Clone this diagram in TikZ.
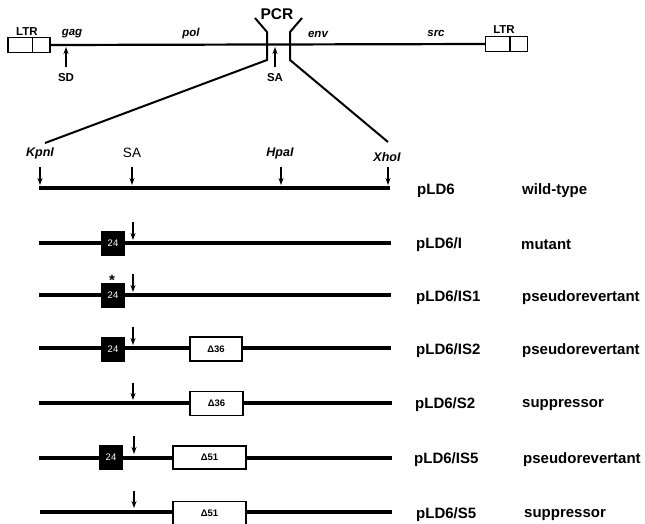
\documentclass[tikz,border=0pt]{standalone}
\usepackage{fontspec}
\setmainfont{Liberation Sans}
\usetikzlibrary{arrows.meta}
\begin{document}
\begin{tikzpicture}[x=1pt,y=-1pt,
  topline/.style={line width=2.2pt},
  dna/.style={line width=3.8pt},
  bracket/.style={line width=2pt, line join=miter},
  site/.style={line width=1.4pt, -{Stealth[length=7pt,width=5pt]}},
  ltrbox/.style={draw, line width=1.3pt, minimum width=42pt, minimum height=15pt, inner sep=0pt},
  mutbox/.style={fill=black, minimum width=24pt, minimum height=25pt, inner sep=0pt, text=white, font=\fontsize{9.5}{10}\selectfont},
  delbox/.style={draw, fill=white, line width=1.3pt, minimum height=24pt, inner sep=0pt, font=\bfseries\fontsize{9.5}{10}\selectfont},
  lbl/.style={font=\bfseries\fontsize{15}{16}\selectfont, anchor=west, inner sep=0pt},
  sml/.style={font=\bfseries\fontsize{11.5}{12}\selectfont, inner sep=0pt},
  gene/.style={font=\bfseries\itshape\fontsize{11.5}{12}\selectfont, inner sep=0pt},
  rsite/.style={font=\bfseries\itshape\fontsize{12.5}{13}\selectfont, inner sep=0pt}
]
\useasboundingbox (0,0) rectangle (645,523);

% ---------- top provirus ----------
\node[ltrbox] (ltrL) at (29,45) {};
\node[ltrbox] (ltrR) at (506.5,44) {};
\draw[line width=1.3pt] ([xshift=25pt]ltrL.north west) -- ([xshift=25pt]ltrL.south west);
\draw[line width=1.3pt] ([xshift=25pt]ltrR.north west) -- ([xshift=25pt]ltrR.south west);
\draw[topline] (ltrL.east) -- (ltrR.west);

\node[sml] (tLTRL) at (27,32) {LTR};
\node[sml] (tLTRR) at (504,30) {LTR};
\node[gene] (tgag) at (72,34) {gag};
\node[gene] (tpol) at (191,34) {pol};
\node[gene] (tenv) at (318,34) {env};
\node[gene] (tsrc) at (436,33) {src};

\coordinate (sdT) at (66,47);
\coordinate (sdB) at (66,67);
\draw[site] (sdB) -- (sdT);
\node[sml] (tSD) at (66,78) {SD};
\coordinate (saT) at (275,47);
\coordinate (saB) at (275,67);
\draw[site] (saB) -- (saT);
\node[sml] (tSA) at (275,78) {SA};

\node[font=\bfseries\fontsize{15.5}{16}\selectfont, inner sep=0pt] (tPCR) at (277,14) {PCR};

% PCR brackets and expansion lines
\coordinate (bl1) at (255,18); \coordinate (bl2) at (267,32); \coordinate (bl3) at (267,60);
\coordinate (br1) at (302,18); \coordinate (br2) at (290,32); \coordinate (br3) at (290,60);
\coordinate (kpnTop) at (45,143);
\coordinate (xhoTop) at (388,142);
\draw[bracket] (bl1) -- (bl2) -- (bl3) -- (kpnTop);
\draw[bracket] (br1) -- (br2) -- (br3) -- (xhoTop);

% ---------- detail rows ----------
% row 1 wild type
\coordinate (r1a) at (39,188); \coordinate (r1b) at (390,188);
\draw[dna] (r1a) -- (r1b);
\node[rsite] (tKpn) at (40,153) {KpnI};
\node[font=\fontsize{13.5}{14}\selectfont, inner sep=0pt] (tSA2) at (132,153) {SA};
\node[rsite] (tHpa) at (280,153) {HpaI};
\node[rsite] (tXho) at (387,157) {XhoI};
\foreach \x/\n in {40/k,132/s,281/h,388/x}{
  \coordinate (a\n T) at (\x,167);
  \coordinate (a\n B) at (\x,185);
  \draw[site] (a\n T) -- (a\n B);
}
\node[lbl] (n1) at (417,191) {pLD6};
\node[lbl] (d1) at (522,191) {wild-type};

% row 2 pLD6/I
\coordinate (r2a) at (39,243); \coordinate (r2b) at (391,243);
\draw[dna] (r2a) -- (r2b);
\node[mutbox] (m2) at (113,243.5) {24};
\coordinate (s2T) at (133,222); \coordinate (s2B) at (133,240);
\draw[site] (s2T) -- (s2B);
\node[lbl] (n2) at (416,245) {pLD6/I};
\node[lbl] (d2) at (521,245) {mutant};

% row 3 pLD6/IS1
\coordinate (r3a) at (39,295); \coordinate (r3b) at (391,295);
\draw[dna] (r3a) -- (r3b);
\node[mutbox] (m3) at (113,295.5) {24};
\node[font=\bfseries\fontsize{15}{15}\selectfont, inner sep=0pt] (star) at (112,280) {*};
\coordinate (s3T) at (133,274); \coordinate (s3B) at (133,292);
\draw[site] (s3T) -- (s3B);
\node[lbl] (n3) at (416,298) {pLD6/IS1};
\node[lbl] (d3) at (522,298) {pseudorevertant};

% row 4 pLD6/IS2
\coordinate (r4a) at (39,348); \coordinate (r4b) at (391,348);
\draw[dna] (r4a) -- (r4b);
\node[mutbox] (m4) at (113,349) {24};
\node[delbox, minimum width=52pt] (del4) at (216,349) {Δ36};
\coordinate (s4T) at (133,327); \coordinate (s4B) at (133,345);
\draw[site] (s4T) -- (s4B);
\node[lbl] (n4) at (416,351) {pLD6/IS2};
\node[lbl] (d4) at (522,351) {pseudorevertant};

% row 5 pLD6/S2
\coordinate (r5a) at (39,403); \coordinate (r5b) at (392,403);
\draw[dna] (r5a) -- (r5b);
\node[delbox, minimum width=53pt] (del5) at (216.5,403.5) {Δ36};
\coordinate (s5T) at (133,383); \coordinate (s5B) at (133,400);
\draw[site] (s5T) -- (s5B);
\node[lbl] (n5) at (415,405) {pLD6/S2};
\node[lbl] (d5) at (522,405) {suppressor};

% row 6 pLD6/IS5
\coordinate (r6a) at (39,458); \coordinate (r6b) at (392,458);
\draw[dna] (r6a) -- (r6b);
\node[mutbox] (m6) at (111,457.5) {24};
\node[delbox, minimum width=73pt, minimum height=23pt] (del6) at (209.5,457.5) {Δ51};
\coordinate (s6T) at (134,436); \coordinate (s6B) at (134,454);
\draw[site] (s6T) -- (s6B);
\node[lbl] (n6) at (414,460) {pLD6/IS5};
\node[lbl] (d6) at (523,460) {pseudorevertant};

% row 7 pLD6/S5
\coordinate (r7a) at (40,512); \coordinate (r7b) at (392,512);
\draw[dna] (r7a) -- (r7b);
\node[delbox, minimum width=73pt, minimum height=23pt] (del7) at (209.5,513) {Δ51};
\coordinate (s7T) at (134,491); \coordinate (s7B) at (134,508);
\draw[site] (s7T) -- (s7B);
\node[lbl] (n7) at (416,515) {pLD6/S5};
\node[lbl] (d7) at (524,515) {suppressor};
\end{tikzpicture}
\end{document}
